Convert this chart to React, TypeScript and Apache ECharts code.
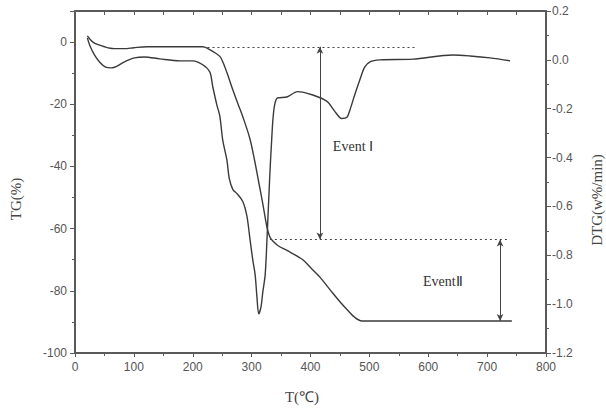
import React, { useEffect, useRef } from "react";
import * as echarts from "echarts";

// TG curve (temperature °C, mass change %)
const tgTemp = [21, 27, 33, 42, 50, 60, 67, 84, 100, 122, 178, 217, 225, 234, 246, 252, 258, 268, 277, 285, 297, 305, 312, 319, 326, 331, 336, 345, 360, 387, 400, 416, 438, 450, 462, 475, 487, 600, 742];
const tgValue = [2.0, 0.6, -0.3, -1.0, -1.5, -2.0, -2.1, -2.1, -1.8, -1.5, -1.5, -1.5, -2.0, -3.0, -4.6, -6.8, -9.8, -15.3, -20.0, -24.0, -31.0, -38.0, -45.0, -52.0, -59.5, -62.7, -64.0, -65.5, -67.0, -70.0, -72.5, -75.6, -80.8, -83.5, -86.0, -88.5, -89.7, -89.7, -89.7];

// DTG curve (temperature °C, w%/min)
const dtgTemp = [21, 25, 33, 42, 52, 62, 72, 84, 101, 118, 144, 178, 200, 217, 229, 234, 241, 246, 251, 258, 262, 268, 276, 285, 292, 297, 302, 306, 309, 312, 316, 319, 323, 326, 331, 334, 336, 339, 344, 360, 378, 404, 428, 441, 453, 462, 467, 475, 484, 492, 501, 518, 574, 642, 671, 705, 739];
const dtgValue = [0.09, 0.06, 0.02, -0.01, -0.03, -0.033, -0.025, -0.008, 0.008, 0.012, 0.004, -0.004, -0.004, -0.02, -0.05, -0.11, -0.185, -0.23, -0.33, -0.41, -0.485, -0.53, -0.55, -0.58, -0.64, -0.73, -0.82, -0.88, -0.97, -1.04, -1.01, -0.95, -0.88, -0.74, -0.465, -0.33, -0.25, -0.185, -0.156, -0.152, -0.13, -0.144, -0.17, -0.21, -0.24, -0.235, -0.205, -0.144, -0.08, -0.03, -0.008, 0.0, 0.003, 0.02, 0.016, 0.008, -0.004];

// Event annotations (TG units)
const eventLevels = [-1.5, -63.5, -89.7];
const dashStart = [225, 331];
const dashEnd = [581, 736];
const arrowTemp = [416, 722];
const eventNames = ["Event Ⅰ", "EventⅡ"];
const eventLabelPos = [
  [438, -33.7],
  [591, -77],
];

const axisColor = "#5a5a5a";
const labelColor = "#555";
const lineColor = "#3a3a3a";

export default function App() {
  const ref = useRef<HTMLDivElement>(null);
  useEffect(() => {
    if (!ref.current) return;
    const chart = echarts.init(ref.current, null, { renderer: "svg" });
    const tgData = tgTemp.map((t, i) => [t, tgValue[i]]);
    const dtgData = dtgTemp.map((t, i) => [t, dtgValue[i]]);
    const dashStyle = { color: "#444", width: 1, type: [2, 3] as any };
    const arrowStyle = { color: "#444", width: 1, type: "solid" };
    const labelFont = { fontFamily: "Liberation Sans", fontSize: 12, color: labelColor };
    const serif = "Liberation Serif";
    const axisLine = { show: true, onZero: false, lineStyle: { color: axisColor, width: 2 } };

    chart.setOption({
      animation: false,
      grid: { left: 75, right: 60, top: 11, bottom: 56 },
      xAxis: [
        {
          type: "value",
          min: 0,
          max: 800,
          interval: 100,
          position: "bottom",
          axisLine,
          axisTick: { show: true, length: 4, lineStyle: { color: axisColor, width: 1 } },
          minorTick: { show: true, splitNumber: 2, length: 3, lineStyle: { color: axisColor } },
          splitLine: { show: false },
          axisLabel: { ...labelFont, margin: 8 },
        },
        {
          type: "value",
          min: 0,
          max: 800,
          interval: 50,
          position: "top",
          axisLine,
          axisTick: { show: true, inside: true, length: 4, lineStyle: { color: axisColor, width: 1 } },
          axisLabel: { show: false },
          splitLine: { show: false },
        },
      ],
      yAxis: [
        {
          type: "value",
          min: -100,
          max: 10,
          interval: 20,
          position: "left",
          axisLine,
          axisTick: { show: true, length: 5, lineStyle: { color: axisColor, width: 1 } },
          minorTick: { show: true, splitNumber: 2, length: 3, lineStyle: { color: axisColor } },
          splitLine: { show: false },
          axisLabel: {
            ...labelFont,
            margin: 8,
            formatter: (v: number) => (v > 0 ? "" : String(v)),
          },
        },
        {
          type: "value",
          min: -1.2,
          max: 0.2,
          interval: 0.2,
          position: "right",
          axisLine,
          axisTick: { show: true, length: 5, lineStyle: { color: axisColor, width: 1 } },
          minorTick: { show: true, splitNumber: 2, length: 3, lineStyle: { color: axisColor } },
          splitLine: { show: false },
          axisLabel: {
            ...labelFont,
            margin: 6,
            formatter: (v: number) => (Math.abs(v) < 1e-9 ? "0.0" : v.toFixed(1)),
          },
        },
      ],
      series: [
        {
          name: "TG",
          type: "line",
          xAxisIndex: 0,
          yAxisIndex: 0,
          data: tgData,
          showSymbol: false,
          smooth: 0.3,
          lineStyle: { color: lineColor, width: 1.4 },
          silent: true,
          markLine: {
            silent: true,
            symbolSize: [5, 7],
            label: { show: false },
            data: [
              [
                { coord: [dashStart[0], eventLevels[0]], symbol: "none", lineStyle: dashStyle },
                { coord: [dashEnd[0], eventLevels[0]], symbol: "none" },
              ],
              [
                { coord: [dashStart[1], eventLevels[1]], symbol: "none", lineStyle: dashStyle },
                { coord: [dashEnd[1], eventLevels[1]], symbol: "none" },
              ],
              [
                { coord: [arrowTemp[0], eventLevels[0]], symbol: "arrow", lineStyle: arrowStyle },
                { coord: [arrowTemp[0], eventLevels[1]], symbol: "arrow" },
              ],
              [
                { coord: [arrowTemp[1], eventLevels[1]], symbol: "arrow", lineStyle: arrowStyle },
                { coord: [arrowTemp[1], eventLevels[2]], symbol: "arrow" },
              ],
            ],
          },
          markPoint: {
            silent: true,
            symbol: "circle",
            symbolSize: 0,
            data: eventNames.map((n, i) => ({
              coord: eventLabelPos[i],
              value: n,
              label: {
                show: true,
                formatter: n,
                position: "right",
                distance: 0,
                fontFamily: serif,
                fontSize: 14,
                color: "#333",
              },
            })),
          },
        },
        {
          name: "DTG",
          type: "line",
          xAxisIndex: 0,
          yAxisIndex: 1,
          data: dtgData,
          showSymbol: false,
          smooth: 0.3,
          lineStyle: { color: lineColor, width: 1.4 },
          silent: true,
        },
      ],
      graphic: [
        {
          type: "text",
          x: 16,
          y: 199,
          rotation: Math.PI / 2,
          style: {
            text: "TG(%)",
            font: `15px "${serif}"`,
            fill: "#444",
            textAlign: "center",
            textVerticalAlign: "middle",
          },
        },
        {
          type: "text",
          x: 597,
          y: 200,
          rotation: Math.PI / 2,
          style: {
            text: "DTG(w%/min)",
            font: `15px "${serif}"`,
            fill: "#444",
            textAlign: "center",
            textVerticalAlign: "middle",
          },
        },
        {
          type: "text",
          x: 302,
          y: 397,
          style: {
            text: "T(℃)",
            font: `15px "${serif}"`,
            fill: "#444",
            textAlign: "center",
            textVerticalAlign: "middle",
          },
        },
      ],
    });
    return () => chart.dispose();
  }, []);
  return (
    <div
      ref={ref}
      style={{ position: "absolute", left: 0, top: 0, width: 606, height: 409, background: "#fff" }}
    />
  );
}
